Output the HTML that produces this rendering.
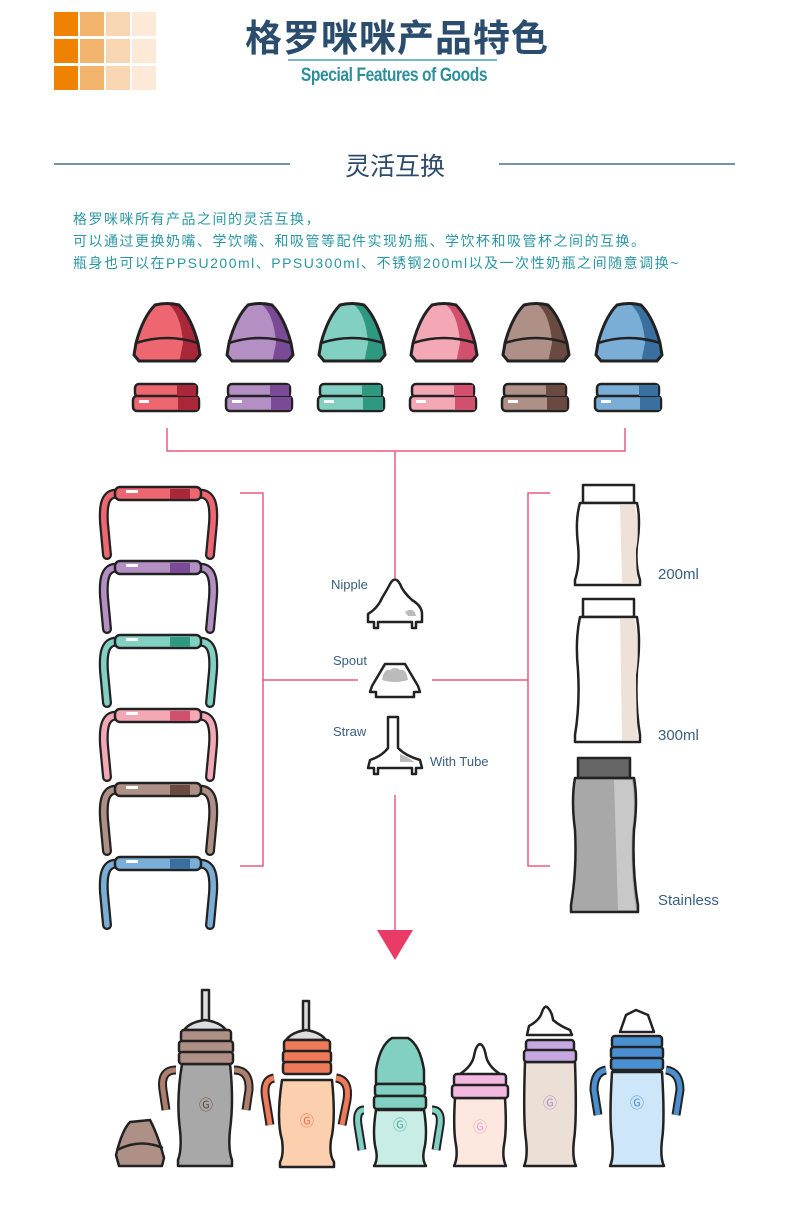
<!DOCTYPE html>
<html><head><meta charset="utf-8"><style>
body{margin:0;background:#fff;}
.w{position:relative;width:790px;height:1209px;overflow:hidden;font-family:"Liberation Sans","Noto Sans CJK SC",sans-serif;}
.t{position:absolute;white-space:nowrap;}
</style></head><body><div class="w">
<svg width="790" height="1209" style="position:absolute;left:0;top:0">
<defs>
<clipPath id="cap" clipPathUnits="userSpaceOnUse"><path d="M6,58 L1,52 L3,40 Q10,14 22,2 Q34,-1 46,2 Q58,14 65,40 L67,52 L62,58 Z"/></clipPath>
</defs>
<g>
<rect x="54" y="12" width="24" height="24" fill="#ef8200"/><rect x="80" y="12" width="24" height="24" fill="#f2b36c"/><rect x="106" y="12" width="24" height="24" fill="#f8d6b2"/><rect x="132" y="12" width="24" height="24" fill="#fce9d8"/>
<rect x="54" y="39" width="24" height="24" fill="#ef8200"/><rect x="80" y="39" width="24" height="24" fill="#f2b36c"/><rect x="106" y="39" width="24" height="24" fill="#f8d6b2"/><rect x="132" y="39" width="24" height="24" fill="#fce9d8"/>
<rect x="54" y="66" width="24" height="24" fill="#ef8200"/><rect x="80" y="66" width="24" height="24" fill="#f2b36c"/><rect x="106" y="66" width="24" height="24" fill="#f8d6b2"/><rect x="132" y="66" width="24" height="24" fill="#fce9d8"/>
</g>
<line x1="288" y1="60" x2="497" y2="60" stroke="#4aa3b0" stroke-width="1.5"/>
<line x1="54" y1="164" x2="290" y2="164" stroke="#4a6f90" stroke-width="1.5"/>
<line x1="499" y1="164" x2="735" y2="164" stroke="#4a6f90" stroke-width="1.5"/>

<g id="caps">
<g transform="translate(133,303)"><path d="M6,58 L1,52 L3,40 Q10,14 22,2 Q34,-1 46,2 Q58,14 65,40 L67,52 L62,58 Z" fill="#ee6670"/><g clip-path="url(#cap)"><path d="M34,0 Q48,10 50,40 L46,60 L70,60 L70,0Z" fill="#a8283a"/></g><path d="M3,40 Q34,30 65,40" fill="none" stroke="#222" stroke-width="2.5"/><path d="M6,58 L1,52 L3,40 Q10,14 22,2 Q34,-1 46,2 Q58,14 65,40 L67,52 L62,58 Z" fill="none" stroke="#222" stroke-width="3"/></g>
<g transform="translate(226,303)"><path d="M6,58 L1,52 L3,40 Q10,14 22,2 Q34,-1 46,2 Q58,14 65,40 L67,52 L62,58 Z" fill="#b48fc4"/><g clip-path="url(#cap)"><path d="M34,0 Q48,10 50,40 L46,60 L70,60 L70,0Z" fill="#7a4a96"/></g><path d="M3,40 Q34,30 65,40" fill="none" stroke="#222" stroke-width="2.5"/><path d="M6,58 L1,52 L3,40 Q10,14 22,2 Q34,-1 46,2 Q58,14 65,40 L67,52 L62,58 Z" fill="none" stroke="#222" stroke-width="3"/></g>
<g transform="translate(318,303)"><path d="M6,58 L1,52 L3,40 Q10,14 22,2 Q34,-1 46,2 Q58,14 65,40 L67,52 L62,58 Z" fill="#82d0c2"/><g clip-path="url(#cap)"><path d="M34,0 Q48,10 50,40 L46,60 L70,60 L70,0Z" fill="#2e9880"/></g><path d="M3,40 Q34,30 65,40" fill="none" stroke="#222" stroke-width="2.5"/><path d="M6,58 L1,52 L3,40 Q10,14 22,2 Q34,-1 46,2 Q58,14 65,40 L67,52 L62,58 Z" fill="none" stroke="#222" stroke-width="3"/></g>
<g transform="translate(410,303)"><path d="M6,58 L1,52 L3,40 Q10,14 22,2 Q34,-1 46,2 Q58,14 65,40 L67,52 L62,58 Z" fill="#f4a8b6"/><g clip-path="url(#cap)"><path d="M34,0 Q48,10 50,40 L46,60 L70,60 L70,0Z" fill="#d0506e"/></g><path d="M3,40 Q34,30 65,40" fill="none" stroke="#222" stroke-width="2.5"/><path d="M6,58 L1,52 L3,40 Q10,14 22,2 Q34,-1 46,2 Q58,14 65,40 L67,52 L62,58 Z" fill="none" stroke="#222" stroke-width="3"/></g>
<g transform="translate(502,303)"><path d="M6,58 L1,52 L3,40 Q10,14 22,2 Q34,-1 46,2 Q58,14 65,40 L67,52 L62,58 Z" fill="#ae9086"/><g clip-path="url(#cap)"><path d="M34,0 Q48,10 50,40 L46,60 L70,60 L70,0Z" fill="#6a4a40"/></g><path d="M3,40 Q34,30 65,40" fill="none" stroke="#222" stroke-width="2.5"/><path d="M6,58 L1,52 L3,40 Q10,14 22,2 Q34,-1 46,2 Q58,14 65,40 L67,52 L62,58 Z" fill="none" stroke="#222" stroke-width="3"/></g>
<g transform="translate(595,303)"><path d="M6,58 L1,52 L3,40 Q10,14 22,2 Q34,-1 46,2 Q58,14 65,40 L67,52 L62,58 Z" fill="#7aaed6"/><g clip-path="url(#cap)"><path d="M34,0 Q48,10 50,40 L46,60 L70,60 L70,0Z" fill="#3a70a0"/></g><path d="M3,40 Q34,30 65,40" fill="none" stroke="#222" stroke-width="2.5"/><path d="M6,58 L1,52 L3,40 Q10,14 22,2 Q34,-1 46,2 Q58,14 65,40 L67,52 L62,58 Z" fill="none" stroke="#222" stroke-width="3"/></g>
</g>
<g stroke="#222" stroke-width="2.5">
<g transform="translate(133,384)"><rect x="2" y="0" width="62" height="13" rx="4" fill="#ee6670"/><rect x="0" y="12" width="66" height="15" rx="4" fill="#ee6670"/><rect x="44" y="1" width="19" height="11" fill="#a8283a" stroke="none"/><rect x="45" y="13" width="20" height="13" fill="#a8283a" stroke="none"/><rect x="6" y="16" width="10" height="3" fill="#fff" stroke="none"/></g>
<g transform="translate(226,384)"><rect x="2" y="0" width="62" height="13" rx="4" fill="#b48fc4"/><rect x="0" y="12" width="66" height="15" rx="4" fill="#b48fc4"/><rect x="44" y="1" width="19" height="11" fill="#7a4a96" stroke="none"/><rect x="45" y="13" width="20" height="13" fill="#7a4a96" stroke="none"/><rect x="6" y="16" width="10" height="3" fill="#fff" stroke="none"/></g>
<g transform="translate(318,384)"><rect x="2" y="0" width="62" height="13" rx="4" fill="#82d0c2"/><rect x="0" y="12" width="66" height="15" rx="4" fill="#82d0c2"/><rect x="44" y="1" width="19" height="11" fill="#2e9880" stroke="none"/><rect x="45" y="13" width="20" height="13" fill="#2e9880" stroke="none"/><rect x="6" y="16" width="10" height="3" fill="#fff" stroke="none"/></g>
<g transform="translate(410,384)"><rect x="2" y="0" width="62" height="13" rx="4" fill="#f4a8b6"/><rect x="0" y="12" width="66" height="15" rx="4" fill="#f4a8b6"/><rect x="44" y="1" width="19" height="11" fill="#d0506e" stroke="none"/><rect x="45" y="13" width="20" height="13" fill="#d0506e" stroke="none"/><rect x="6" y="16" width="10" height="3" fill="#fff" stroke="none"/></g>
<g transform="translate(502,384)"><rect x="2" y="0" width="62" height="13" rx="4" fill="#ae9086"/><rect x="0" y="12" width="66" height="15" rx="4" fill="#ae9086"/><rect x="44" y="1" width="19" height="11" fill="#6a4a40" stroke="none"/><rect x="45" y="13" width="20" height="13" fill="#6a4a40" stroke="none"/><rect x="6" y="16" width="10" height="3" fill="#fff" stroke="none"/></g>
<g transform="translate(595,384)"><rect x="2" y="0" width="62" height="13" rx="4" fill="#7aaed6"/><rect x="0" y="12" width="66" height="15" rx="4" fill="#7aaed6"/><rect x="44" y="1" width="19" height="11" fill="#3a70a0" stroke="none"/><rect x="45" y="13" width="20" height="13" fill="#3a70a0" stroke="none"/><rect x="6" y="16" width="10" height="3" fill="#fff" stroke="none"/></g>
</g>

<g stroke="#ea5a80" stroke-width="1.5" fill="none">
<path d="M167,428 V451 H625 V428"/>
<line x1="395" y1="451" x2="395" y2="578"/>
<line x1="395" y1="795" x2="395" y2="930"/>
<path d="M240,493 H263 V866 H240"/>
<line x1="263" y1="680" x2="358" y2="680"/>
<path d="M550,493 H528 V866 H550"/>
<line x1="432" y1="680" x2="528" y2="680"/>
</g>
<path d="M377,930 L413,930 L395,960 Z" fill="#ea3a68"/>

<g id="handles">
<g transform="translate(100,487)"><path d="M20,7 C4,4 3,20 4,36 L7,68 M96,7 C113,4 114,20 113,36 L110,68" fill="none" stroke="#222" stroke-width="10" stroke-linecap="round"/><path d="M20,7 C4,4 3,20 4,36 L7,68 M96,7 C113,4 114,20 113,36 L110,68" fill="none" stroke="#ee6670" stroke-width="5.5" stroke-linecap="round"/><rect x="15" y="0" width="86" height="13" rx="5" fill="#ee6670" stroke="#222" stroke-width="2.5"/><rect x="70" y="2" width="20" height="10" fill="#a8283a"/><rect x="26" y="3" width="12" height="3" fill="#fff"/></g>
<g transform="translate(100,561)"><path d="M20,7 C4,4 3,20 4,36 L7,68 M96,7 C113,4 114,20 113,36 L110,68" fill="none" stroke="#222" stroke-width="10" stroke-linecap="round"/><path d="M20,7 C4,4 3,20 4,36 L7,68 M96,7 C113,4 114,20 113,36 L110,68" fill="none" stroke="#b48fc4" stroke-width="5.5" stroke-linecap="round"/><rect x="15" y="0" width="86" height="13" rx="5" fill="#b48fc4" stroke="#222" stroke-width="2.5"/><rect x="70" y="2" width="20" height="10" fill="#7a4a96"/><rect x="26" y="3" width="12" height="3" fill="#fff"/></g>
<g transform="translate(100,635)"><path d="M20,7 C4,4 3,20 4,36 L7,68 M96,7 C113,4 114,20 113,36 L110,68" fill="none" stroke="#222" stroke-width="10" stroke-linecap="round"/><path d="M20,7 C4,4 3,20 4,36 L7,68 M96,7 C113,4 114,20 113,36 L110,68" fill="none" stroke="#82d0c2" stroke-width="5.5" stroke-linecap="round"/><rect x="15" y="0" width="86" height="13" rx="5" fill="#82d0c2" stroke="#222" stroke-width="2.5"/><rect x="70" y="2" width="20" height="10" fill="#2e9880"/><rect x="26" y="3" width="12" height="3" fill="#fff"/></g>
<g transform="translate(100,709)"><path d="M20,7 C4,4 3,20 4,36 L7,68 M96,7 C113,4 114,20 113,36 L110,68" fill="none" stroke="#222" stroke-width="10" stroke-linecap="round"/><path d="M20,7 C4,4 3,20 4,36 L7,68 M96,7 C113,4 114,20 113,36 L110,68" fill="none" stroke="#f4a8b6" stroke-width="5.5" stroke-linecap="round"/><rect x="15" y="0" width="86" height="13" rx="5" fill="#f4a8b6" stroke="#222" stroke-width="2.5"/><rect x="70" y="2" width="20" height="10" fill="#d0506e"/><rect x="26" y="3" width="12" height="3" fill="#fff"/></g>
<g transform="translate(100,783)"><path d="M20,7 C4,4 3,20 4,36 L7,68 M96,7 C113,4 114,20 113,36 L110,68" fill="none" stroke="#222" stroke-width="10" stroke-linecap="round"/><path d="M20,7 C4,4 3,20 4,36 L7,68 M96,7 C113,4 114,20 113,36 L110,68" fill="none" stroke="#ae9086" stroke-width="5.5" stroke-linecap="round"/><rect x="15" y="0" width="86" height="13" rx="5" fill="#ae9086" stroke="#222" stroke-width="2.5"/><rect x="70" y="2" width="20" height="10" fill="#6a4a40"/><rect x="26" y="3" width="12" height="3" fill="#fff"/></g>
<g transform="translate(100,857)"><path d="M20,7 C4,4 3,20 4,36 L7,68 M96,7 C113,4 114,20 113,36 L110,68" fill="none" stroke="#222" stroke-width="10" stroke-linecap="round"/><path d="M20,7 C4,4 3,20 4,36 L7,68 M96,7 C113,4 114,20 113,36 L110,68" fill="none" stroke="#7aaed6" stroke-width="5.5" stroke-linecap="round"/><rect x="15" y="0" width="86" height="13" rx="5" fill="#7aaed6" stroke="#222" stroke-width="2.5"/><rect x="70" y="2" width="20" height="10" fill="#3a70a0"/><rect x="26" y="3" width="12" height="3" fill="#fff"/></g>
</g>

<g stroke="#222" stroke-width="2.5" fill="#fff" stroke-linejoin="round">
<path d="M368,622 L368,614 Q378,608 382,598 Q388,588 390,584 Q395,575 400,584 Q403,592 412,600 Q422,606 422,614 L422,622 L416,622 L416,628 L412,628 L412,622 L378,622 L378,628 L374,628 L374,622 Z"/>
<path d="M405,612 Q414,606 416,616 L408,616Z" fill="#bbb" stroke="none"/>
<path d="M370,692 L372,686 L385,664 L405,664 L418,686 L420,692 L414,692 L414,697 L376,697 L376,692Z"/>
<path d="M382,680 Q384,668 390,670 Q395,666 400,670 Q406,668 408,680 Q395,684 382,680Z" fill="#bbb" stroke="none"/>
<path d="M368,768 L370,760 Q382,756 388,748 L388,717 L398,717 L398,748 Q406,756 420,760 L422,768 L416,768 L416,774 L412,774 L412,768 L378,768 L378,774 L374,774 L374,768Z"/>
<path d="M400,754 Q410,758 414,762 L400,762Z" fill="#bbb" stroke="none"/>
</g>

<g stroke="#222" stroke-width="2.5" stroke-linejoin="round">
<rect x="583" y="485" width="51" height="18" fill="#fff"/>
<path d="M580,503 L637,503 Q641,520 637,545 Q635,565 640,580 L640,585 L575,585 L575,580 Q580,565 578,545 Q575,520 580,503Z" fill="#fff"/>
<path d="M620,505 L635,505 Q640,530 636,550 Q636,570 638,583 L622,583Z" fill="#eee2d8" stroke="none"/>
<rect x="583" y="599" width="51" height="18" fill="#fff"/>
<path d="M580,617 L637,617 Q641,640 637,670 Q635,705 640,735 L640,742 L575,742 L575,735 Q580,705 578,670 Q575,640 580,617Z" fill="#fff"/>
<path d="M620,619 L635,619 Q640,650 636,675 Q636,710 638,740 L622,740Z" fill="#eee2d8" stroke="none"/>
<rect x="578" y="758" width="52" height="20" fill="#666"/>
<path d="M575,778 L634,778 Q638,800 634,830 Q632,870 638,905 L638,912 L571,912 L571,905 Q577,870 575,830 Q571,800 575,778Z" fill="#a8a8a8"/>
<path d="M614,780 L632,780 Q636,805 632,830 Q630,870 636,910 L618,910Z" fill="#c8c8c8" stroke="none"/>
</g>

<g stroke="#222" stroke-width="2.5" stroke-linejoin="round">
<path d="M119,1166 L116,1155 Q122,1130 130,1122 L150,1120 Q158,1135 164,1158 L162,1166Z" fill="#ae9086"/>
<path d="M117,1150 Q140,1138 163,1148" fill="none"/>
<rect x="202" y="990" width="7" height="32" fill="#ddd"/>
<path d="M184,1030 Q190,1022 205,1020 Q220,1022 226,1030Z" fill="#ddd"/>
<path d="M176,1070 Q160,1070 163,1090 L166,1110" fill="none" stroke="#222" stroke-width="9"/>
<path d="M176,1070 Q160,1070 163,1090 L166,1110" fill="none" stroke="#ae7f6c" stroke-width="5"/>
<path d="M234,1070 Q250,1070 249,1090 L246,1110" fill="none" stroke="#222" stroke-width="9"/>
<path d="M234,1070 Q250,1070 249,1090 L246,1110" fill="none" stroke="#ae7f6c" stroke-width="5"/>
<path d="M182,1064 L230,1064 Q234,1100 230,1130 Q228,1150 232,1160 L232,1166 L178,1166 L178,1160 Q182,1150 180,1130 Q176,1100 182,1064Z" fill="#a8a8a8"/>
<rect x="181" y="1030" width="50" height="12" rx="3" fill="#ae9086"/>
<rect x="179" y="1041" width="54" height="12" rx="3" fill="#ae9086"/>
<rect x="179" y="1052" width="54" height="12" rx="3" fill="#ae9086"/>
<rect x="303" y="1001" width="6" height="32" fill="#ddd"/>
<path d="M286,1040 Q292,1032 306,1030 Q320,1032 326,1040Z" fill="#ddd"/>
<path d="M274,1078 Q262,1080 266,1100 L270,1125" fill="none" stroke="#222" stroke-width="9"/>
<path d="M274,1078 Q262,1080 266,1100 L270,1125" fill="none" stroke="#ee7a5a" stroke-width="5"/>
<path d="M336,1078 Q350,1080 347,1100 L342,1125" fill="none" stroke="#222" stroke-width="9"/>
<path d="M336,1078 Q350,1080 347,1100 L342,1125" fill="none" stroke="#ee7a5a" stroke-width="5"/>
<path d="M282,1080 L332,1080 Q336,1120 331,1140 Q329,1155 334,1162 L334,1167 L280,1167 L280,1162 Q284,1155 282,1140 Q276,1120 282,1080Z" fill="#fcd0ae"/>
<rect x="284" y="1040" width="46" height="12" rx="3" fill="#ee7a5a"/>
<rect x="283" y="1051" width="48" height="12" rx="3" fill="#ee7a5a"/>
<rect x="283" y="1062" width="48" height="12" rx="3" fill="#ee7a5a"/>
<path d="M364,1110 Q356,1110 358,1125 L362,1150" fill="none" stroke="#222" stroke-width="9"/>
<path d="M364,1110 Q356,1110 358,1125 L362,1150" fill="none" stroke="#82d0c2" stroke-width="5"/>
<path d="M432,1110 Q442,1110 440,1125 L436,1150" fill="none" stroke="#222" stroke-width="9"/>
<path d="M432,1110 Q442,1110 440,1125 L436,1150" fill="none" stroke="#82d0c2" stroke-width="5"/>
<path d="M376,1110 L424,1110 Q428,1135 424,1150 Q422,1160 426,1166 L374,1166 Q378,1160 376,1150 Q372,1135 376,1110Z" fill="#c8ece6"/>
<path d="M376,1084 L376,1070 Q380,1045 392,1038 L408,1038 Q420,1045 424,1070 L424,1084Z" fill="#82d0c2"/>
<rect x="375" y="1084" width="50" height="12" rx="3" fill="#82d0c2"/>
<rect x="374" y="1096" width="52" height="13" rx="3" fill="#82d0c2"/>
<path d="M457,1084 L460,1074 Q472,1066 474,1056 Q476,1045 480,1044 Q484,1045 486,1056 Q488,1066 500,1074 L503,1084Z" fill="#fff"/>
<path d="M455,1098 L505,1098 Q507,1130 504,1145 Q502,1158 506,1166 L454,1166 Q458,1158 456,1145 Q453,1130 455,1098Z" fill="#fde8e0"/>
<rect x="454" y="1074" width="52" height="12" rx="3" fill="#f2b8e0"/>
<rect x="452" y="1085" width="56" height="13" rx="3" fill="#f2b8e0"/>
<path d="M527,1035 L529,1026 Q540,1020 542,1012 Q545,1004 548,1008 Q552,1012 553,1020 Q560,1026 570,1030 L572,1035Z" fill="#fff"/>
<path d="M525,1062 L575,1062 Q577,1120 574,1140 Q572,1158 576,1166 L524,1166 Q528,1158 526,1140 Q523,1120 525,1062Z" fill="#ece0d6"/>
<rect x="526" y="1040" width="48" height="11" rx="3" fill="#c6a8e0"/>
<rect x="524" y="1050" width="52" height="12" rx="3" fill="#c6a8e0"/>
<path d="M606,1070 Q594,1072 594,1090 L598,1115" fill="none" stroke="#222" stroke-width="9"/>
<path d="M606,1070 Q594,1072 594,1090 L598,1115" fill="none" stroke="#4a90d0" stroke-width="5"/>
<path d="M666,1070 Q680,1072 680,1090 L676,1115" fill="none" stroke="#222" stroke-width="9"/>
<path d="M666,1070 Q680,1072 680,1090 L676,1115" fill="none" stroke="#4a90d0" stroke-width="5"/>
<path d="M620,1032 L626,1015 L636,1010 L648,1015 L654,1032Z" fill="#fff"/>
<path d="M612,1072 L662,1072 Q665,1120 662,1140 Q660,1158 664,1166 L610,1166 Q614,1158 612,1140 Q609,1120 612,1072Z" fill="#cde6fa"/>
<rect x="612" y="1036" width="50" height="12" rx="3" fill="#4a90d0"/>
<rect x="611" y="1047" width="52" height="12" rx="3" fill="#4a90d0"/>
<rect x="611" y="1058" width="52" height="12" rx="3" fill="#4a90d0"/>
</g>
<g font-family="Liberation Sans,sans-serif" font-size="14" text-anchor="middle">
<text x="206" y="1110" fill="#6a4a40">Ⓖ</text><text x="307" y="1126" fill="#ee6a4a">Ⓖ</text><text x="400" y="1130" fill="#4ab0a0">Ⓖ</text><text x="480" y="1132" fill="#e8a0d0">Ⓖ</text><text x="550" y="1108" fill="#b08ad0">Ⓖ</text><text x="637" y="1108" fill="#4a90d0">Ⓖ</text>
</g>
</svg>
<div class="t" style="left:0;width:790px;text-align:center;top:8px;font-size:37px;font-weight:bold;color:#2a4d6e;letter-spacing:1px;padding-left:2px;">格罗咪咪产品特色</div>
<div class="t" style="left:238px;width:312px;text-align:center;top:65px;font-size:19px;font-weight:bold;color:#2e8f9c;letter-spacing:-0.5px;transform:scaleX(0.82);">Special Features of Goods</div>
<div class="t" style="left:0;width:790px;text-align:center;top:147px;font-size:25px;color:#2c4a6a;">灵活互换</div>
<div class="t" style="left:73px;top:208px;font-size:14px;color:#2a97a3;line-height:22px;letter-spacing:1.5px;">格罗咪咪所有产品之间的灵活互换，<br>可以通过更换奶嘴、学饮嘴、和吸管等配件实现奶瓶、学饮杯和吸管杯之间的互换。<br>瓶身也可以在PPSU200ml、PPSU300ml、不锈钢200ml以及一次性奶瓶之间随意调换~</div>
<div class="t" style="left:331px;top:577px;font-size:13px;color:#3a5f80;">Nipple</div>
<div class="t" style="left:333px;top:653px;font-size:13px;color:#3a5f80;">Spout</div>
<div class="t" style="left:333px;top:724px;font-size:13px;color:#3a5f80;">Straw</div>
<div class="t" style="left:430px;top:754px;font-size:13px;color:#3a5f80;">With Tube</div>
<div class="t" style="left:658px;top:566px;font-size:15px;color:#3a5f80;">200ml</div>
<div class="t" style="left:658px;top:727px;font-size:15px;color:#3a5f80;">300ml</div>
<div class="t" style="left:658px;top:892px;font-size:15px;color:#3a5f80;">Stainless</div>
</div></body></html>
